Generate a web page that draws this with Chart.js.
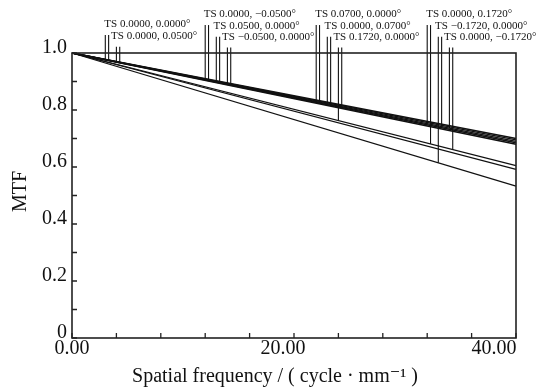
<!DOCTYPE html>
<html><head><meta charset="utf-8">
<script src="https://cdn.jsdelivr.net/npm/chart.js@4.4.1/dist/chart.umd.min.js"></script>
<style>html,body{margin:0;padding:0;background:#fff;}</style>
</head><body>
<canvas id="c" width="541" height="389"></canvas>
<script>
// ---- data ----
const freq = [0, 40];
const mtfBundle1 = [1.0, 0.700];
const mtfBundle2 = [1.0, 0.695];
const mtfBundle3 = [1.0, 0.690];
const mtfBundle4 = [1.0, 0.685];
const mtfBundle5 = [1.0, 0.680];
const mtfEdge1 = [1.0, 0.605];
const mtfEdge2 = [1.0, 0.592];
const mtfEdge3 = [1.0, 0.533];

const markerFreq = [3.0, 4.0, 12.0, 13.0, 14.0, 22.0, 23.0, 24.0, 32.0, 33.0, 34.0];
const markerPairGap = 0.3;
const markerTop = [1.063, 1.022, 1.098, 1.057, 1.019, 1.098, 1.057, 1.019, 1.098, 1.057, 1.019];
const markerBottomT = [0.977, 0.969, 0.907, 0.899, 0.892, 0.830, 0.822, 0.763, 0.752, 0.615, 0.7365];
const markerBottomS = [0.974, 0.967, 0.905, 0.897, 0.889, 0.827, 0.819, 0.812, 0.681, 0.742, 0.660];
const markerLabels = [
  'TS 0.0000, 0.0000°', 'TS 0.0000, 0.0500°',
  'TS 0.0000, −0.0500°', 'TS 0.0500, 0.0000°', 'TS −0.0500, 0.0000°',
  'TS 0.0700, 0.0000°', 'TS 0.0000, 0.0700°', 'TS 0.1720, 0.0000°',
  'TS 0.0000, 0.1720°', 'TS −0.1720, 0.0000°', 'TS 0.0000, −0.1720°'
];
const xTickLabels = [0, 20, 40];
const yTickLabels = [0, 0.2, 0.4, 0.6, 0.8, 1.0];

// ---- style ----
const INK = '#111';
const labelDx = [-1, -5.3, -1.5, -2.7, -5.3, -1, -2.7, -5.0, -1, -3.2, -5.3];
const xLabelDx = {0: 0, 20: -11, 40: -22};
const SERIF = "'Liberation Serif', 'DejaVu Serif', serif";

const datasets = [];
function addLine(vals, w) {
  datasets.push({data: freq.map((f, i) => ({x: f, y: vals[i]})), borderColor: INK, borderWidth: w,
    pointRadius: 0, fill: false, tension: 0, clip: false});
}
[mtfBundle1, mtfBundle2, mtfBundle3, mtfBundle4, mtfBundle5].forEach(v => addLine(v, 1.4));
[mtfEdge1, mtfEdge2, mtfEdge3].forEach(v => addLine(v, 1.25));
markerFreq.forEach((f, i) => {
  datasets.push({data: [{x: f, y: markerBottomT[i]}, {x: f, y: markerTop[i]}], borderColor: INK, borderWidth: 1.1, pointRadius: 0, clip: false});
  datasets.push({data: [{x: f + markerPairGap, y: markerBottomS[i]}, {x: f + markerPairGap, y: markerTop[i]}], borderColor: INK, borderWidth: 1.1, pointRadius: 0, clip: false});
});

const decor = {
  id: 'decor',
  afterDraw(chart) {
    const {ctx, chartArea: a, scales: {x, y}} = chart;
    ctx.save();
    // frame
    ctx.strokeStyle = '#222'; ctx.lineWidth = 1.6;
    ctx.strokeRect(a.left, a.top, a.right - a.left, a.bottom - a.top);
    // inward ticks
    ctx.lineWidth = 1.3;
    ctx.beginPath();
    x.ticks.forEach(t => { const px = x.getPixelForValue(t.value); ctx.moveTo(px, a.bottom); ctx.lineTo(px, a.bottom - 5); });
    y.ticks.forEach(t => { const py = y.getPixelForValue(t.value); ctx.moveTo(a.left, py); ctx.lineTo(a.left + 5, py); });
    ctx.stroke();
    // x tick labels
    ctx.fillStyle = INK;
    ctx.font = '20px ' + SERIF;
    ctx.textAlign = 'center'; ctx.textBaseline = 'middle';
    xTickLabels.forEach(v => ctx.fillText(v.toFixed(2), x.getPixelForValue(v) + xLabelDx[v], a.bottom + 11));
    // axis titles
    ctx.fillText('Spatial frequency / ( cycle · mm⁻¹ )', (a.left + a.right) / 2 - 19, a.bottom + 39);
    ctx.save();
    ctx.translate(a.left - 51, (a.top + a.bottom) / 2 - 4);
    ctx.rotate(-Math.PI / 2);
    ctx.fillText('MTF', 0, 0);
    ctx.restore();
    // marker labels
    ctx.font = '11px ' + SERIF;
    ctx.textAlign = 'left';
    markerLabels.forEach((s, i) => {
      ctx.fillText(s, x.getPixelForValue(markerFreq[i]) + labelDx[i], y.getPixelForValue(markerTop[i]) - 10.5);
    });
    ctx.restore();
  }
};

new Chart(document.getElementById('c'), {
  type: 'line',
  data: {datasets},
  options: {
    responsive: false, animation: false, devicePixelRatio: 1,
    layout: {padding: {top: 53, right: 25, left: 0, bottom: 0}},
    plugins: {legend: {display: false}, tooltip: {enabled: false}},
    scales: {
      x: {type: 'linear', min: 0, max: 40,
        ticks: {stepSize: 4, display: false},
        grid: {display: false, drawTicks: false}, border: {display: false},
        afterFit(s) { s.height = 51; }},
      y: {type: 'linear', min: 0, max: 1.0,
        ticks: {stepSize: 0.1, padding: 5, labelOffset: -5, color: INK,
          font: {family: SERIF, size: 20},
          callback(v) { const k = Math.round(v * 10); if (k % 2) return ''; const m = yTickLabels.find(t => Math.abs(t - v) < 1e-6); return m === undefined ? '' : (m === 0 ? '0' : m.toFixed(1)); }},
        grid: {display: false, drawTicks: false}, border: {display: false},
        afterFit(s) { s.width = 72; }}
    }
  },
  plugins: [decor]
});
</script>
</body></html>
